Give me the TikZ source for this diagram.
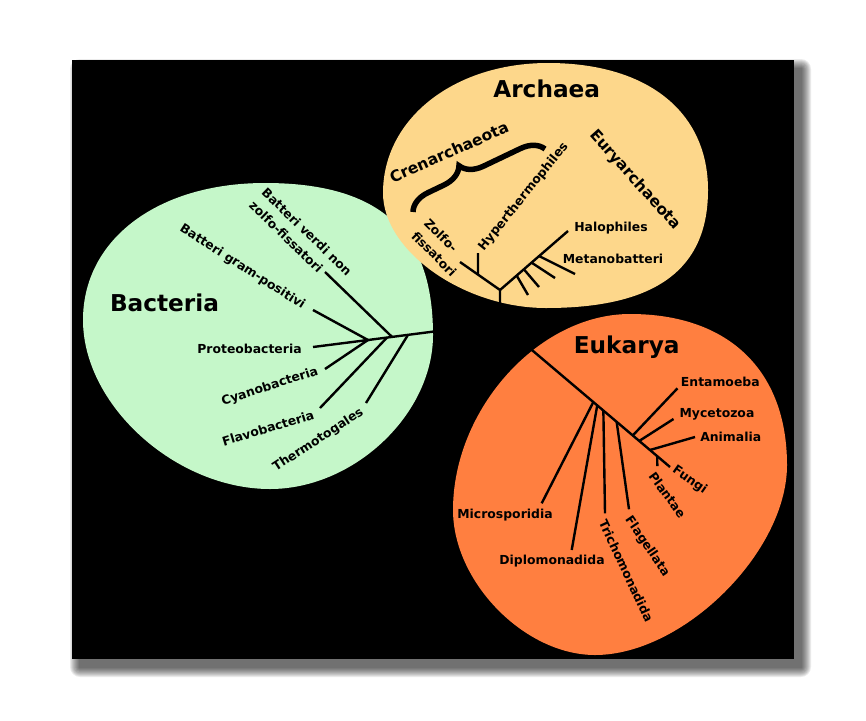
\documentclass[tikz,border=0pt]{standalone}
\usepackage{fontspec}
\setmainfont{DejaVu Sans}
\usetikzlibrary{calc,decorations.pathreplacing}

\definecolor{archaeafill}{RGB}{253,215,139}
\definecolor{bacteriafill}{RGB}{197,247,201}
\definecolor{eukaryafill}{RGB}{255,127,64}

\begin{document}
\begin{tikzpicture}[x=1pt,y=-1pt,
    branch/.style={line width=2.4pt},
    taxon/.style={inner sep=0pt,text depth=0pt,font=\bfseries\fontsize{12.4}{18}\selectfont},
    phylum/.style={inner sep=0pt,text depth=0pt,font=\bfseries\fontsize{15.5}{18}\selectfont},
    regnum/.style={inner sep=0pt,text depth=0pt,font=\bfseries\fontsize{23.2}{28}\selectfont}]
    \useasboundingbox (0,0) rectangle (866,720);

    % frame with soft shadow
    \foreach \e in {1,...,10}
      \fill[black,opacity=0.08,rounded corners=\e pt] (80-\e,69-\e) rectangle (801+\e,667+\e);
    \fill[black] (72,60) rectangle (794,659);

    \fill[bacteriafill]
      (265,183) .. controls (379.7,183) and (433,231.2) .. (433,335)
      .. controls (433,414.3) and (353.9,489) .. (270,489)
      .. controls (175.8,489) and (83,405.2) .. (83,320)
      .. controls (83,239.3) and (157.8,183) .. (265,183) -- cycle;
    \fill[archaeafill]
      (548,63) .. controls (647,63) and (708,111.4) .. (708,190)
      .. controls (708,269.7) and (655.4,308) .. (546,308)
      .. controls (463.8,308) and (383,251) .. (383,193)
      .. controls (383,118.8) and (453.8,63) .. (548,63) -- cycle;
    \fill[eukaryafill]
      (630,314) .. controls (728.4,314) and (787,370.3) .. (787,465)
      .. controls (787,552.2) and (683.1,655) .. (595,655)
      .. controls (524.6,655) and (453,581.9) .. (453,510)
      .. controls (453,409.1) and (538.8,314) .. (630,314) -- cycle;

    \coordinate (luca) at (500,323);

    % Archaea
    \coordinate (aroot) at (500,290);
    \coordinate (tzolfo) at (460,262);
    \coordinate (thyper) at (478,253);
    \coordinate (thalo) at (568,231);
    \coordinate (tmeta1) at (528,295);
    \coordinate (tmeta2) at (539,287);
    \coordinate (tmeta3) at (555,278);
    \coordinate (tmeta4) at (575,274);
    \draw[branch] (luca) -- (aroot) -- (tzolfo);
    \draw[branch] ($(aroot)!0.55!(tzolfo)$) -- (thyper);
    \draw[branch] (aroot) -- (thalo);
    \foreach \t/\tip in {0.245/tmeta1,0.351/tmeta2,0.464/tmeta3,0.575/tmeta4}
      \draw[branch] ($(aroot)!\t!(thalo)$) -- (\tip);

    \draw[line width=5.5pt,decorate,decoration={brace,amplitude=22pt,aspect=0.42}]
      (413,212) -- (545,149);

    \node[regnum] (archaea) at (546.7,88.3) {Archaea};
    \node[phylum,rotate=24] (crenarchaeota) at (449,152) {Crenarchaeota};
    \node[phylum,rotate=-48] (euryarchaeota) at (636,179) {Euryarchaeota};
    \node[taxon,rotate=51] (hyperthermophiles) at (522.5,196) {Hyperthermophiles};
    \node[taxon,rotate=-45,align=left] (zolfofissatori) at (440.5,247.5) {Zolfo-\\fissatori};
    \node[taxon] (halophiles) at (611,227) {Halophiles};
    \node[taxon] (metanobatteri) at (613,258.5) {Metanobatteri};

    % Bacteria
    \coordinate (bgram) at (368,340);
    \coordinate (tthermo) at (366,403);
    \coordinate (tverdi) at (325,272);
    \coordinate (tflavo) at (320,408);
    \coordinate (tgram) at (313,310);
    \coordinate (tproteo) at (313,347);
    \coordinate (tcyano) at (325,369);
    \draw[branch] (luca) -- (bgram);
    \draw[branch] ($(luca)!0.697!(bgram)$) -- (tthermo);
    \draw[branch] ($(luca)!0.818!(bgram)$) -- (tverdi);
    \draw[branch] ($(luca)!0.856!(bgram)$) -- (tflavo);
    \draw[branch] (tgram) -- (bgram) -- (tproteo);
    \draw[branch] (bgram) -- (tcyano);

    \node[regnum] (bacteria) at (164.5,302.5) {Bacteria};
    \node[taxon,rotate=-44,align=left] (verdi) at (300.7,238) {Batteri verdi non\\zolfo-fissatori};
    \node[taxon,rotate=-32.5] (grampositivi) at (243,266) {Batteri gram-positivi};
    \node[taxon] (proteobacteria) at (249.5,348.3) {Proteobacteria};
    \node[taxon,rotate=18] (cyanobacteria) at (269.5,385.5) {Cyanobacteria};
    \node[taxon,rotate=17] (flavobacteria) at (268,428) {Flavobacteria};
    \node[taxon,rotate=33] (thermotogales) at (317.5,439) {Thermotogales};

    % Eukarya
    \coordinate (tfungi) at (670,467);
    \coordinate (tmicro) at (541.7,503.3);
    \coordinate (tdiplo) at (571.7,550);
    \coordinate (ttricho) at (605,513.3);
    \coordinate (tflag) at (629,509.3);
    \coordinate (tentam) at (677.5,388.3);
    \coordinate (tmyce) at (673.5,419);
    \coordinate (tanim) at (695,437);
    \coordinate (tplant) at (657.3,466);
    \draw[branch] (luca) -- (tfungi);
    \foreach \t/\tip in {0.549/tmicro,0.572/tdiplo,0.608/ttricho,0.686/tflag,
                         0.781/tentam,0.819/tmyce,0.882/tanim,0.925/tplant}
      \draw[branch] ($(luca)!\t!(tfungi)$) -- (\tip);

    \node[regnum] (eukarya) at (626.7,345) {Eukarya};
    \node[taxon] (entamoeba) at (720.3,381.7) {Entamoeba};
    \node[taxon] (mycetozoa) at (717,413.3) {Mycetozoa};
    \node[taxon] (animalia) at (730.7,436.7) {Animalia};
    \node[taxon,rotate=-35] (fungi) at (690.5,479) {Fungi};
    \node[taxon,rotate=-54] (plantae) at (667.5,495) {Plantae};
    \node[taxon] (microsporidia) at (505,513.3) {Microsporidia};
    \node[taxon] (diplomonadida) at (552,560) {Diplomonadida};
    \node[taxon,rotate=-65] (trichomonadida) at (626.3,571) {Trichomonadida};
    \node[taxon,rotate=-56] (flagellata) at (648.3,545.8) {Flagellata};
  \end{tikzpicture}
\end{document}
